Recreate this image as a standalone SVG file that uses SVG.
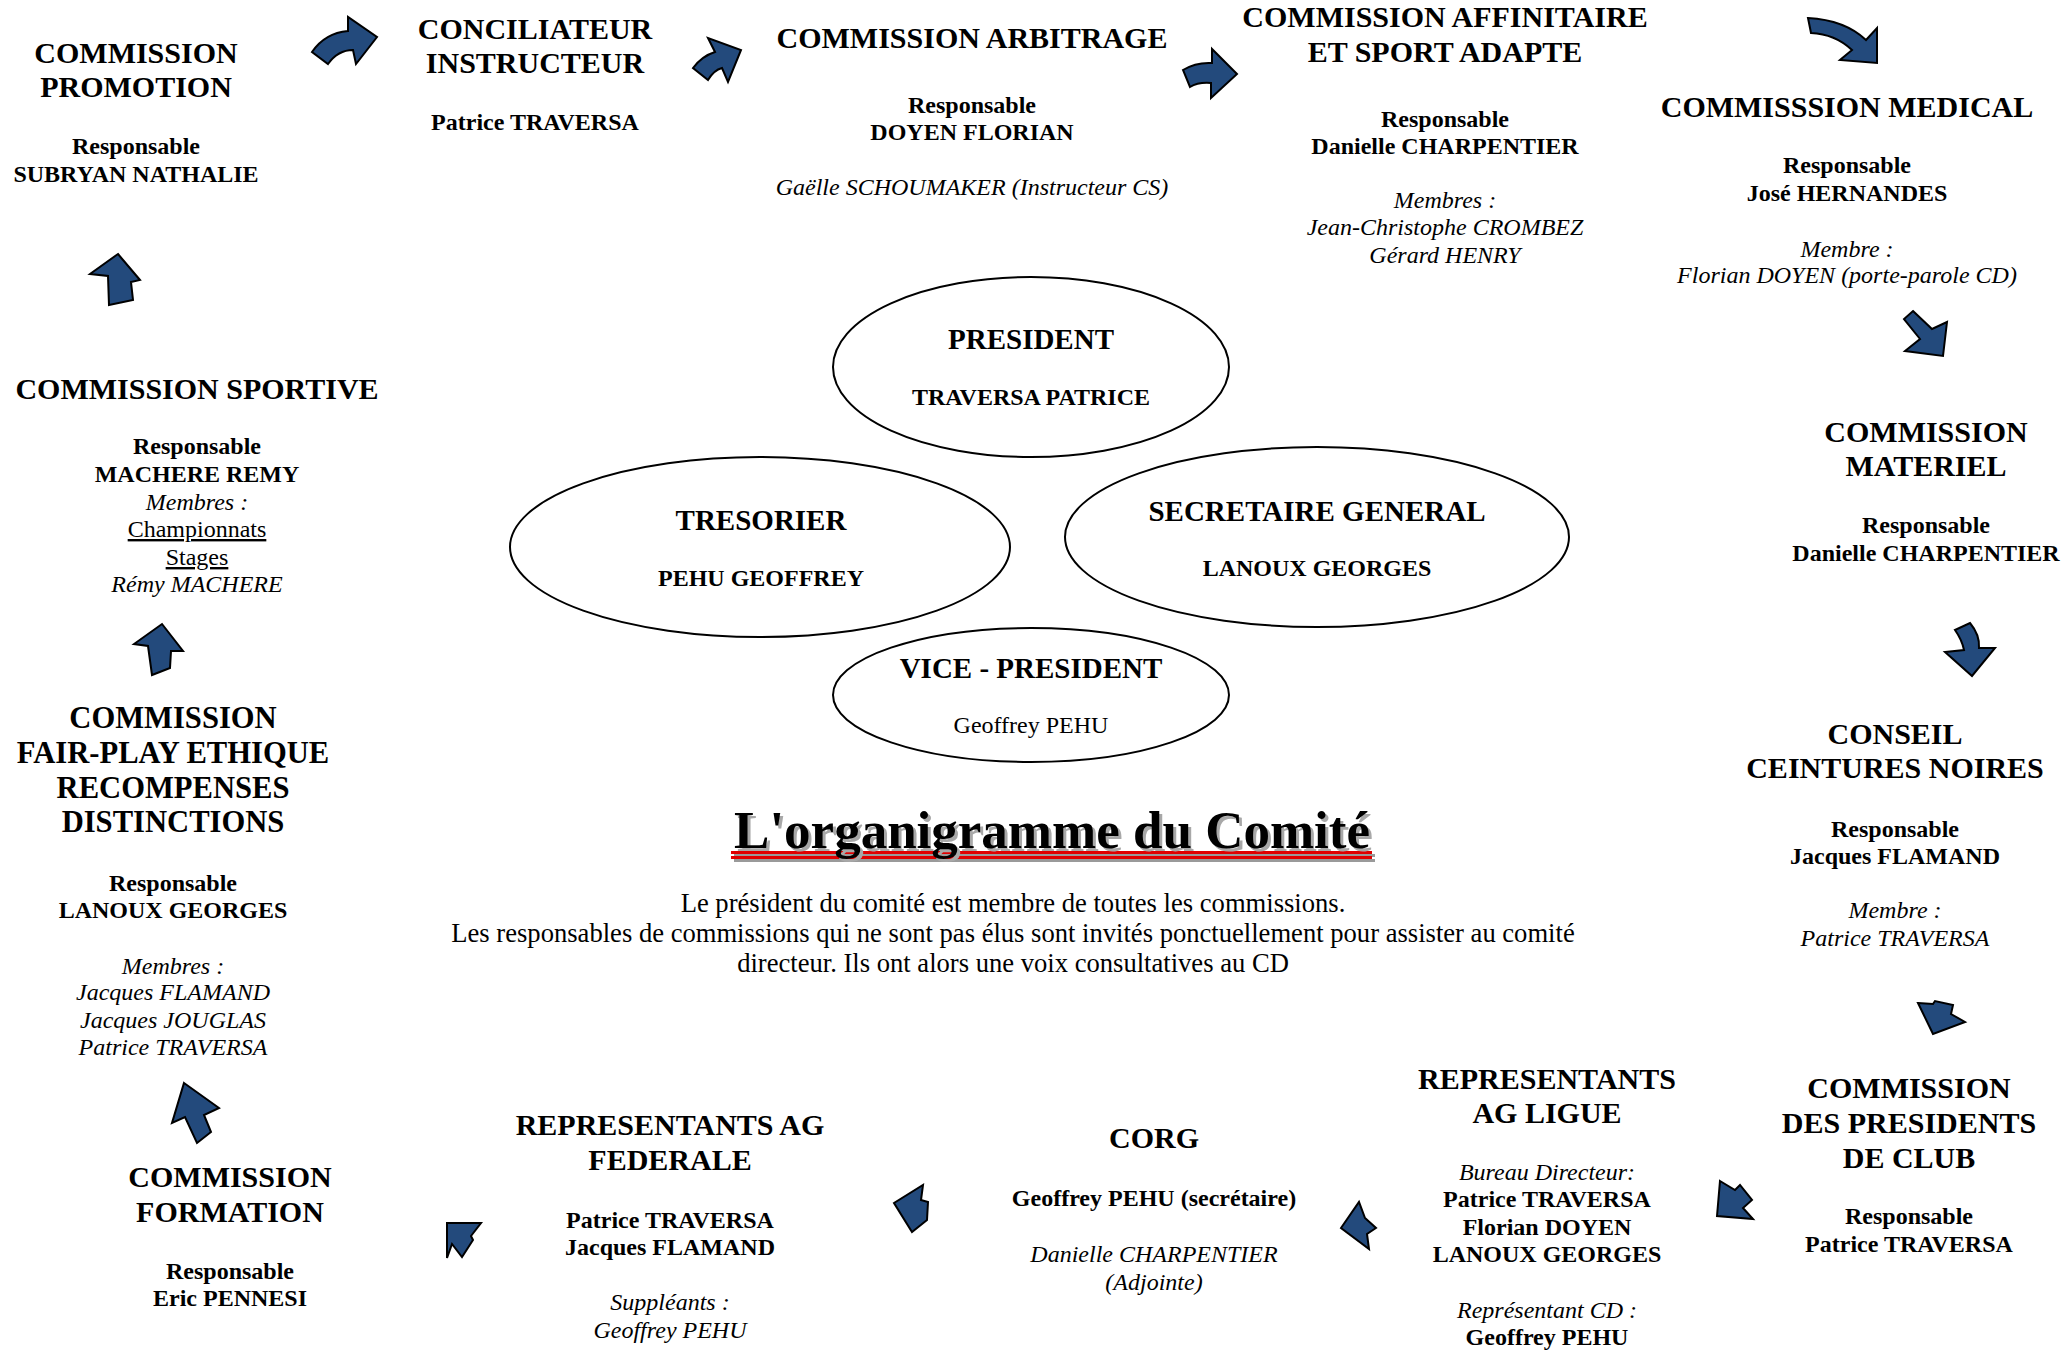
<svg xmlns="http://www.w3.org/2000/svg" width="2066" height="1351" viewBox="0 0 2066 1351">
<style>
text{font-family:"Liberation Serif","Times New Roman",serif;text-anchor:middle;fill:#000}
.h{font-size:30px;font-weight:bold}
.b{font-size:24px;font-weight:bold}
.i{font-size:24px;font-style:italic}
.r{font-size:24px}
.p{font-size:26.6px}
.u{text-decoration:underline}
.eh{font-size:29px;font-weight:bold}
.ell{fill:#fff;stroke:#000;stroke-width:2}
.arr{fill:#234a7c;stroke:#000;stroke-width:2;stroke-linejoin:miter}
</style>
<rect width="2066" height="1351" fill="#fff"/>

<g id="connectors">
<path class="arr" d="M312,52 Q325,33 348,31 L348,17 L377,37 L356,64 L353,50 Q338,50 328,64 Z"/>
<path class="arr" d="M693,68 Q702,56 715,52 L708,38 L741,50 L728,82 L722,68 Q714,70 708,80 Z"/>
<path class="arr" d="M1183,70 Q1196,62 1212,63 L1212,49 L1237,74 L1211,98 L1211,83 Q1198,82 1190,87 Z"/>
<path class="arr" d="M1808,18 Q1845,20 1866,40 L1877,28 L1877,63 L1840,60 L1852,50 Q1835,34 1811,33 Z"/>
<path class="arr" d="M1913,311 L1932,329 L1947,322 L1943,356 L1905,351 L1920,339 L1904,319 Z"/>
<path class="arr" d="M1955,630 L1970,623 Q1980,635 1979,648 L1995,648 L1972,676 L1945,652 L1964,650 Q1962,640 1955,630 Z"/>
<path class="arr" d="M1918,1003 L1933,1004 L1935,1001 L1953,1005 L1951,1014 L1965,1022 L1933,1034 Z"/>
<path class="arr" d="M1720,1181 L1735,1190 L1740,1185 L1752,1200 L1743,1208 L1753,1219 L1717,1216 Z"/>
<path class="arr" d="M1341,1228 L1359,1202 L1365,1218 L1376,1228 L1367,1234 L1369,1249 Z"/>
<path class="arr" d="M923,1185 L921,1200 L928,1202 L927,1220 L912,1232 L894,1203 Z"/>
<path class="arr" d="M447,1223 L481,1223 L471,1236 L473,1240 L462,1257 L452,1244 L447,1258 Z"/>
<path class="arr" d="M184,1083 L219,1108 L204,1115 L211,1132 L197,1143 L185,1117 L172,1123 Z"/>
<path class="arr" d="M162,624 L183,651 L171,651 L170,668 L152,675 L148,646 L134,644 Z"/>
<path class="arr" d="M118,254 L140,280 L131,282 L133,300 L109,305 L108,276 L90,274 Z"/>
</g>

<g id="promotion">
<text class="h" x="136" y="63">COMMISSION</text>
<text class="h" x="136" y="97">PROMOTION</text>
<text class="b" x="136" y="154">Responsable</text>
<text class="b" x="136" y="182">SUBRYAN NATHALIE</text>
</g>

<g id="conciliateur">
<text class="h" x="535" y="39">CONCILIATEUR</text>
<text class="h" x="535" y="73">INSTRUCTEUR</text>
<text class="b" x="535" y="130">Patrice TRAVERSA</text>
</g>

<g id="arbitrage">
<text class="h" x="972" y="48">COMMISSION ARBITRAGE</text>
<text class="b" x="972" y="113">Responsable</text>
<text class="b" x="972" y="140">DOYEN FLORIAN</text>
<text class="i" x="972" y="195">Gaëlle SCHOUMAKER (Instructeur CS)</text>
</g>

<g id="affinitaire">
<text class="h" x="1445" y="27">COMMISSION AFFINITAIRE</text>
<text class="h" x="1445" y="62">ET SPORT ADAPTE</text>
<text class="b" x="1445" y="127">Responsable</text>
<text class="b" x="1445" y="154">Danielle CHARPENTIER</text>
<text class="i" x="1445" y="208">Membres :</text>
<text class="i" x="1445" y="235">Jean-Christophe CROMBEZ</text>
<text class="i" x="1445" y="263">Gérard HENRY</text>
</g>

<g id="medical">
<text class="h" x="1847" y="117">COMMISSSION MEDICAL</text>
<text class="b" x="1847" y="173">Responsable</text>
<text class="b" x="1847" y="201">José HERNANDES</text>
<text class="i" x="1847" y="257">Membre :</text>
<text class="i" x="1847" y="283">Florian DOYEN (porte-parole CD)</text>
</g>

<g id="materiel">
<text class="h" x="1926" y="442">COMMISSION</text>
<text class="h" x="1926" y="476">MATERIEL</text>
<text class="b" x="1926" y="533">Responsable</text>
<text class="b" x="1926" y="561">Danielle CHARPENTIER</text>
</g>

<g id="ceintures-noires">
<text class="h" x="1895" y="744">CONSEIL</text>
<text class="h" x="1895" y="778">CEINTURES NOIRES</text>
<text class="b" x="1895" y="837">Responsable</text>
<text class="b" x="1895" y="864">Jacques FLAMAND</text>
<text class="i" x="1895" y="918">Membre :</text>
<text class="i" x="1895" y="946">Patrice TRAVERSA</text>
</g>

<g id="presidents-club">
<text class="h" x="1909" y="1098">COMMISSION</text>
<text class="h" x="1909" y="1133">DES PRESIDENTS</text>
<text class="h" x="1909" y="1168">DE CLUB</text>
<text class="b" x="1909" y="1224">Responsable</text>
<text class="b" x="1909" y="1252">Patrice TRAVERSA</text>
</g>

<g id="ag-ligue">
<text class="h" x="1547" y="1089">REPRESENTANTS</text>
<text class="h" x="1547" y="1123">AG LIGUE</text>
<text class="i" x="1547" y="1180">Bureau Directeur:</text>
<text class="b" x="1547" y="1207">Patrice TRAVERSA</text>
<text class="b" x="1547" y="1235">Florian DOYEN</text>
<text class="b" x="1547" y="1262">LANOUX GEORGES</text>
<text class="i" x="1547" y="1318">Représentant CD :</text>
<text class="b" x="1547" y="1345">Geoffrey PEHU</text>
</g>

<g id="corg">
<text class="h" x="1154" y="1148">CORG</text>
<text class="b" x="1154" y="1206">Geoffrey PEHU (secrétaire)</text>
<text class="i" x="1154" y="1262">Danielle CHARPENTIER</text>
<text class="i" x="1154" y="1290">(Adjointe)</text>
</g>

<g id="ag-federale">
<text class="h" x="670" y="1135">REPRESENTANTS AG</text>
<text class="h" x="670" y="1170">FEDERALE</text>
<text class="b" x="670" y="1228">Patrice TRAVERSA</text>
<text class="b" x="670" y="1255">Jacques FLAMAND</text>
<text class="i" x="670" y="1310">Suppléants :</text>
<text class="i" x="670" y="1338">Geoffrey PEHU</text>
</g>

<g id="formation">
<text class="h" x="230" y="1187">COMMISSION</text>
<text class="h" x="230" y="1222">FORMATION</text>
<text class="b" x="230" y="1279">Responsable</text>
<text class="b" x="230" y="1306">Eric PENNESI</text>
</g>

<g id="fair-play">
<text class="h" x="173" y="728" style="font-size:30.6px">COMMISSION</text>
<text class="h" x="173" y="763" style="font-size:30.6px">FAIR-PLAY ETHIQUE</text>
<text class="h" x="173" y="798" style="font-size:30.6px">RECOMPENSES</text>
<text class="h" x="173" y="832" style="font-size:30.6px">DISTINCTIONS</text>
<text class="b" x="173" y="891">Responsable</text>
<text class="b" x="173" y="918">LANOUX GEORGES</text>
<text class="i" x="173" y="974">Membres :</text>
<text class="i" x="173" y="1000">Jacques FLAMAND</text>
<text class="i" x="173" y="1028">Jacques JOUGLAS</text>
<text class="i" x="173" y="1055">Patrice TRAVERSA</text>
</g>

<g id="sportive">
<text class="h" x="197" y="399">COMMISSION SPORTIVE</text>
<text class="b" x="197" y="454">Responsable</text>
<text class="b" x="197" y="482">MACHERE REMY</text>
<text class="i" x="197" y="510">Membres :</text>
<text class="r u" x="197" y="537">Championnats</text>
<text class="r u" x="197" y="565">Stages</text>
<text class="i" x="197" y="592">Rémy MACHERE</text>
</g>

<g id="president">
<ellipse class="ell" cx="1031" cy="367" rx="198" ry="90"/>
<text class="eh" x="1031" y="349">PRESIDENT</text>
<text class="b" x="1031" y="405">TRAVERSA PATRICE</text>
</g>

<g id="tresorier">
<ellipse class="ell" cx="760" cy="547" rx="250" ry="90"/>
<text class="eh" x="761" y="530">TRESORIER</text>
<text class="b" x="761" y="586">PEHU GEOFFREY</text>
</g>

<g id="secretaire">
<ellipse class="ell" cx="1317" cy="537" rx="252" ry="90"/>
<text class="eh" x="1317" y="521">SECRETAIRE GENERAL</text>
<text class="b" x="1317" y="576">LANOUX GEORGES</text>
</g>

<g id="vice-president">
<ellipse class="ell" cx="1031" cy="695" rx="198" ry="67"/>
<text class="eh" x="1031" y="678">VICE - PRESIDENT</text>
<text class="r" x="1031" y="733">Geoffrey PEHU</text>
</g>

<g id="title">
<rect x="734" y="854" width="641" height="3" fill="#9a9a9a"/>
<rect x="734" y="859" width="641" height="3" fill="#9a9a9a"/>
<rect x="731" y="851" width="641" height="3" fill="#e00000"/>
<rect x="731" y="856" width="641" height="3" fill="#e00000"/>
<text x="1055" y="851" style="font-size:53px;font-weight:bold;fill:#a8a8a8">L'organigramme du Comité</text>
<text x="1052" y="848" style="font-size:53px;font-weight:bold">L'organigramme du Comité</text>
</g>

<g id="note">
<text class="p" x="1013" y="912">Le président du comité est membre de toutes les commissions.</text>
<text class="p" x="1013" y="942">Les responsables de commissions qui ne sont pas élus sont invités ponctuellement pour assister au comité</text>
<text class="p" x="1013" y="972">directeur. Ils ont alors une voix consultatives au CD</text>
</g>
</svg>
